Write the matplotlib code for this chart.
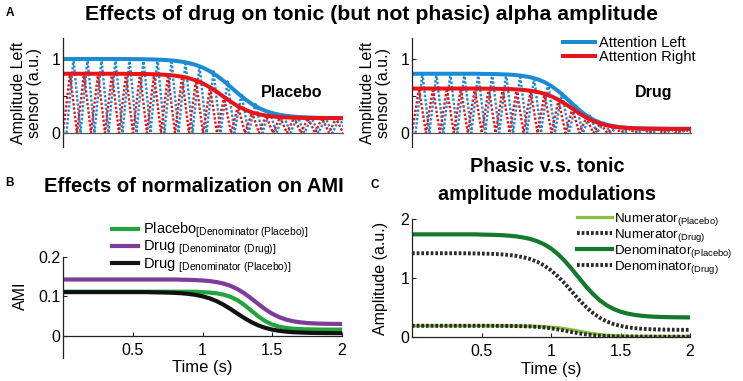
import matplotlib
matplotlib.use('Agg')
import matplotlib.pyplot as plt

plt.rcParams['font.family'] = ['Liberation Sans', 'DejaVu Sans']
plt.rcParams['mathtext.fontset'] = 'custom'
plt.rcParams['mathtext.rm'] = 'Liberation Sans'
plt.rcParams['mathtext.it'] = 'Liberation Sans:italic'
plt.rcParams['mathtext.bf'] = 'Liberation Sans:bold'

# ---------------- data ----------------
time_s = [0.00, 0.05, 0.10, 0.15, 0.20, 0.25, 0.30, 0.35, 0.40, 0.45,
          0.50, 0.55, 0.60, 0.65, 0.70, 0.75, 0.80, 0.85, 0.90, 0.95,
          1.00, 1.05, 1.10, 1.15, 1.20, 1.25, 1.30, 1.35, 1.40, 1.45,
          1.50, 1.55, 1.60, 1.65, 1.70, 1.75, 1.80, 1.85, 1.90, 1.95, 2.00]

# Panel A: tonic amplitude envelopes
placebo_left = [1.000] * 9 + [0.999, 0.998, 0.997, 0.995, 0.993, 0.989, 0.983, 0.975, 0.962, 0.944,
                              0.918, 0.882, 0.833, 0.772, 0.698, 0.617, 0.534, 0.457, 0.390, 0.336,
                              0.295, 0.266, 0.244, 0.230, 0.220, 0.213, 0.209, 0.206, 0.204, 0.203,
                              0.202, 0.201]
placebo_right = [0.800] * 9 + [0.799, 0.798, 0.797, 0.796, 0.793, 0.789, 0.783, 0.774, 0.760, 0.739,
                               0.709, 0.669, 0.616, 0.554, 0.486, 0.420, 0.361, 0.314, 0.277, 0.252,
                               0.234, 0.222, 0.214, 0.209, 0.206, 0.204, 0.202, 0.201, 0.200, 0.200,
                               0.200, 0.200]
drug_left = [0.800] * 10 + [0.798, 0.797, 0.795, 0.792, 0.788, 0.781, 0.769, 0.752, 0.725, 0.686,
                            0.633, 0.563, 0.480, 0.392, 0.308, 0.235, 0.178, 0.137, 0.108, 0.089,
                            0.076, 0.068, 0.063, 0.060, 0.058, 0.057, 0.056, 0.055, 0.055, 0.055,
                            0.055]
drug_right = [0.600] * 10 + [0.599, 0.598, 0.597, 0.595, 0.593, 0.588, 0.581, 0.570, 0.554, 0.529,
                             0.495, 0.448, 0.391, 0.328, 0.264, 0.207, 0.160, 0.126, 0.101, 0.085,
                             0.074, 0.067, 0.062, 0.060, 0.058, 0.057, 0.056, 0.055, 0.055, 0.055,
                             0.055]
alpha_trough = 0.0          # phasic oscillation goes down to zero
left_phase_lag_s = 0.025    # attention-left oscillation lags by a quarter cycle

# Panel B: AMI
ami_placebo = [0.112] * 20 + [0.1108, 0.1098, 0.108, 0.1047, 0.0992, 0.0906, 0.0785, 0.064, 0.0495,
                              0.0374, 0.0288, 0.0233, 0.020, 0.0182, 0.0172, 0.0166, 0.0163, 0.016,
                              0.016, 0.016, 0.016]
ami_drug = [0.143] * 17 + [0.1424, 0.1421, 0.1415, 0.1405, 0.139, 0.1365, 0.1327, 0.127, 0.1188,
                           0.108, 0.0949, 0.0809, 0.0675, 0.0562, 0.0475, 0.0413, 0.0371, 0.0344,
                           0.0327, 0.0317, 0.031, 0.0306, 0.0304, 0.0302]
ami_drug_placebo_den = [0.111] * 13 + [0.1105, 0.1102, 0.1098, 0.1091, 0.1081, 0.1065, 0.104, 0.1004,
                                       0.0953, 0.0883, 0.0792, 0.0684, 0.0566, 0.0452, 0.035, 0.0267,
                                       0.0204, 0.0159, 0.0129, 0.0108, 0.0094, 0.0086, 0.008, 0.0076,
                                       0.0074, 0.0072, 0.0071, 0.0071]

# Panel C: numerator / denominator amplitudes
num_placebo = [0.190] * 12 + [0.1896, 0.1893, 0.1888, 0.188, 0.1868, 0.1847, 0.1815, 0.1763, 0.1685,
                              0.1572, 0.1416, 0.122, 0.100, 0.078, 0.0584, 0.0428, 0.0315, 0.0237,
                              0.0185, 0.0153, 0.0132, 0.012, 0.0112, 0.0107, 0.0104, 0.010, 0.010,
                              0.010, 0.010]
num_drug = [0.190] * 12 + [0.189, 0.1883, 0.1872, 0.1855, 0.1827, 0.1783, 0.1715, 0.1614, 0.1472,
                           0.1286, 0.1067, 0.0837, 0.0624, 0.0446, 0.0313, 0.0219, 0.0156, 0.0116,
                           0.0091, 0.0075, 0.0065, 0.0059, 0.0055, 0.005, 0.005, 0.005, 0.005,
                           0.005, 0.005]
den_placebo = [1.740] * 10 + [1.736, 1.733, 1.730, 1.725, 1.717, 1.705, 1.687, 1.662, 1.624, 1.572,
                              1.500, 1.405, 1.288, 1.151, 1.006, 0.862, 0.733, 0.624, 0.539, 0.475,
                              0.429, 0.397, 0.375, 0.360, 0.350, 0.343, 0.339, 0.336, 0.334, 0.333,
                              0.332]
den_drug = [1.420] * 8 + [1.418, 1.416, 1.414, 1.411, 1.407, 1.400, 1.390, 1.375, 1.353, 1.321,
                          1.276, 1.213, 1.130, 1.026, 0.904, 0.770, 0.636, 0.514, 0.410, 0.327,
                          0.264, 0.219, 0.187, 0.165, 0.150, 0.140, 0.133, 0.129, 0.126, 0.124,
                          0.122, 0.121, 0.121]

xtick_vals = [0.5, 1, 1.5, 2]
xtick_labels = ['0.5', '1', '1.5', '2']

# ---------------- styling ----------------
BLUE = '#1b8bd4'
RED = '#e8141c'
GREEN_B = '#22a33c'
PURPLE = '#7d3c98'
LGREEN = '#86c440'
DGREEN = '#137a2b'
BLACK = '#111111'
AXC = '#222222'

W, H = 743, 381
fig = plt.figure(figsize=(W / 100, H / 100), dpi=100)


def rect(l, t, r, b):
    return [l / W, 1 - b / H, (r - l) / W, (b - t) / H]


def style(ax):
    for s in ['top', 'right']:
        ax.spines[s].set_visible(False)
    for s in ['left', 'bottom']:
        ax.spines[s].set_color(AXC)
        ax.spines[s].set_linewidth(0.9)
    ax.tick_params(direction='in', length=3, width=0.8, labelsize=11.5, pad=2, colors=AXC,
                   labelcolor='black')
    ax.tick_params(axis='x', pad=5)
    ax.set_xlim(0, 2)


def zigzag(env):
    return [env[i] if i % 2 == 1 else alpha_trough for i in range(len(env))]


def panel_a(ax, left, right, name, name_x):
    style(ax)
    ax.set_ylim(-0.19, 1.283)
    ax.spines['bottom'].set_position(('data', 0))
    ax.spines['bottom'].set_color('#555555')
    ax.set_xticks([])
    ax.set_yticks([0, 0.5, 1])
    ax.set_yticklabels(['0', '', '1'])
    t_left = [t + left_phase_lag_s for t in time_s]
    ax.plot(t_left, zigzag(left), color=BLUE, lw=1.7, ls=(0, (1, 0.8)))
    ax.plot(time_s, zigzag(right), color=RED, lw=1.7, ls=(0, (1, 0.8)))
    ax.plot(time_s, left, color=BLUE, lw=2.9, solid_capstyle='butt', label='Attention Left')
    ax.plot(time_s, right, color=RED, lw=2.9, solid_capstyle='butt', label='Attention Right')
    ax.text(name_x, 0.55, name, fontsize=11.5, fontweight='bold', ha='center', va='center')
    ax.set_ylabel('Amplitude Left\nsensor (a.u.)', fontsize=11.5, linespacing=1.05)
    ax.yaxis.set_label_coords(-0.075, 0.5)


axA1 = fig.add_axes(rect(63, 38, 343, 147))
panel_a(axA1, placebo_left, placebo_right, 'Placebo', 1.63)
axA2 = fig.add_axes(rect(412, 38, 691, 147))
panel_a(axA2, drug_left, drug_right, 'Drug', 1.73)
axA2.legend(loc='upper left', bbox_to_anchor=(561 / W, 1 - 36 / H), bbox_transform=fig.transFigure,
            frameon=False, borderpad=0, borderaxespad=0, handlelength=2.45, handletextpad=0.15,
            labelspacing=0.0, fontsize=10.5)

# Panel B
axB = fig.add_axes(rect(63, 257, 342, 358))
style(axB)
axB.set_ylim(-0.056, 0.2)
axB.spines['bottom'].set_position(('data', 0))
axB.set_xticks(xtick_vals)
axB.set_xticklabels(xtick_labels)
axB.set_yticks([0, 0.1, 0.2])
axB.set_yticklabels(['0', '0.1', '0.2'])
axB.plot(time_s, ami_placebo, color=GREEN_B, lw=3.0,
         label=r'Placebo$_{\mathregular{[Denominator\ (Placebo)]}}$')
axB.plot(time_s, ami_drug, color=PURPLE, lw=3.0,
         label=r'Drug$\ _{\mathregular{[Denominator\ (Drug)]}}$')
axB.plot(time_s, ami_drug_placebo_den, color=BLACK, lw=3.0,
         label=r'Drug$\ _{\mathregular{[Denominator\ (Placebo)]}}$')
axB.set_ylabel('AMI', fontsize=11.5)
axB.yaxis.set_label_coords(-0.125, 0.62)
axB.set_xlabel('Time (s)', fontsize=12)
axB.xaxis.set_label_coords(0.5, -0.02)
axB.legend(loc='upper left', bbox_to_anchor=(112 / W, 1 - 221 / H), bbox_transform=fig.transFigure,
           frameon=False, borderpad=0, borderaxespad=0, handlelength=1.75, handletextpad=0.4,
           labelspacing=-0.08, fontsize=10.5)

# Panel C
axC = fig.add_axes(rect(412, 219, 690, 337))
style(axC)
axC.set_ylim(0, 2)
axC.set_xticks(xtick_vals)
axC.set_xticklabels(xtick_labels)
axC.set_yticks([0, 1, 2])
axC.set_yticklabels(['0', '1', '2'])
dots = (0, (0.7, 0.5))
axC.plot(time_s, num_placebo, color=LGREEN, lw=2.3, label=r'Numerator$_{\mathregular{(Placebo)}}$')
axC.plot(time_s, num_drug, color='#2a2a2a', lw=2.8, ls=dots, dash_capstyle='butt',
         label=r'Numerator$_{\mathregular{(Drug)}}$')
axC.plot(time_s, den_placebo, color=DGREEN, lw=3.0, label=r'Denominator$_{\mathregular{(Placebo)}}$')
axC.plot(time_s, den_drug, color='#2a2a2a', lw=2.8, ls=dots, dash_capstyle='butt',
         label=r'Denominator$_{\mathregular{(Drug)}}$')
axC.set_ylabel('Amplitude (a.u.)', fontsize=11.5)
axC.yaxis.set_label_coords(-0.086, 0.5)
axC.set_xlabel('Time (s)', fontsize=12)
axC.xaxis.set_label_coords(0.5, -0.21)
axC.legend(loc='upper left', bbox_to_anchor=(577 / W, 1 - 211 / H), bbox_transform=fig.transFigure,
           frameon=False, borderpad=0, borderaxespad=0, handlelength=2.6, handletextpad=0.15,
           labelspacing=-0.08, fontsize=9.6)

# titles and panel letters
fig.text(371.5 / W, 1 - 15 / H, 'Effects of drug on tonic (but not phasic) alpha amplitude',
         fontsize=15.3, fontweight='bold', ha='center', va='center')
fig.text(193.5 / W, 1 - 187 / H, 'Effects of normalization on AMI',
         fontsize=14.5, fontweight='bold', ha='center', va='center')
fig.text(547 / W, 1 - 167 / H, 'Phasic v.s. tonic',
         fontsize=14.3, fontweight='bold', ha='center', va='center')
fig.text(547 / W, 1 - 194 / H, 'amplitude modulations',
         fontsize=14.3, fontweight='bold', ha='center', va='center')
fig.text(10 / W, 1 - 13 / H, 'A', fontsize=8.5, fontweight='bold', ha='center', va='center')
fig.text(9 / W, 1 - 183 / H, 'B', fontsize=8.5, fontweight='bold', ha='center', va='center')
fig.text(375 / W, 1 - 185 / H, 'C', fontsize=8.5, fontweight='bold', ha='center', va='center')

fig.savefig('out.png', dpi=100)
